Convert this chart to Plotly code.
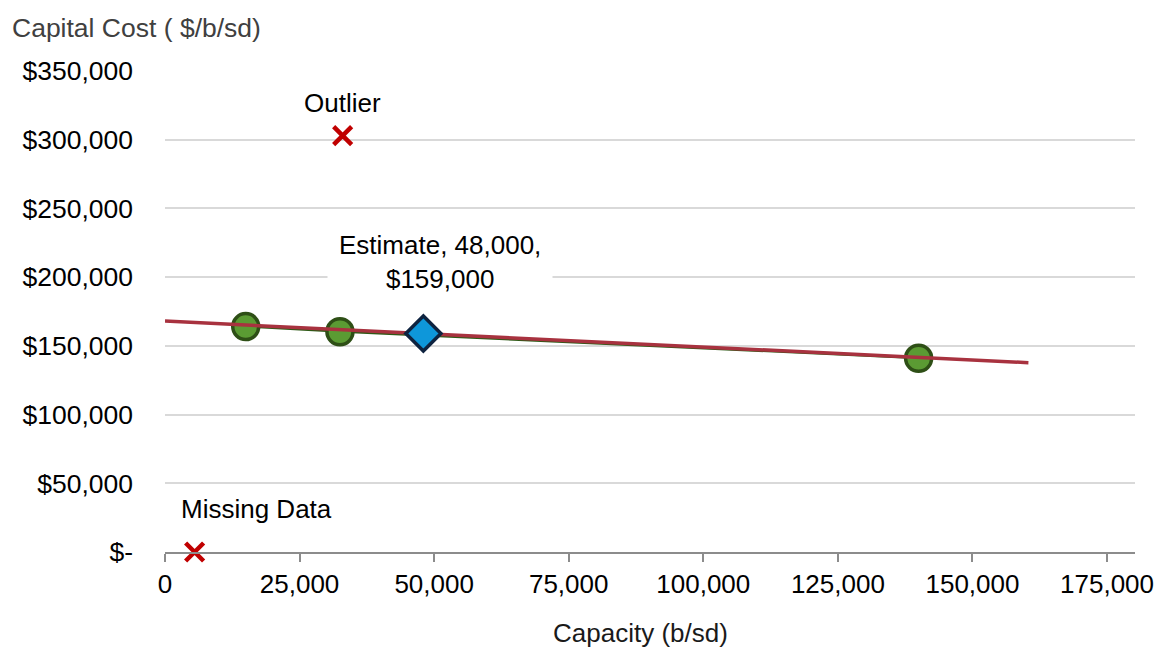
import plotly.graph_objects as go

# Observed plants: capacity (b/sd) vs capital cost ($/b/sd)
plant_capacity = [15000, 32500, 140000]
plant_cost = [164000, 160300, 141000]

# Point estimate for the new plant
estimate_capacity = [48000]
estimate_cost = [159000]

# Excluded points
outlier_capacity = [33000]
outlier_cost = [303000]
missing_capacity = [5500]
missing_cost = [0]

# Linear trend across the capacity range
trend_capacity = [0, 160400]
trend_cost = [168000, 137750]

y_ticks = [0, 50000, 100000, 150000, 200000, 250000, 300000, 350000]
y_tick_text = ["$-", "$50,000", "$100,000", "$150,000", "$200,000",
               "$250,000", "$300,000", "$350,000"]
x_ticks = [0, 25000, 50000, 75000, 100000, 125000, 150000, 175000]
x_tick_text = ["0", "25,000", "50,000", "75,000", "100,000",
               "125,000", "150,000", "175,000"]

FONT = "Liberation Sans, Arial, sans-serif"
TXT = 26

fig = go.Figure()

fig.add_trace(go.Scatter(
    x=plant_capacity, y=plant_cost, mode="lines+markers",
    line=dict(color="#2F5A17", width=2),
    marker=dict(symbol="circle", size=26, color="#5B9B33",
                line=dict(color="#2E4F16", width=3.5)),
    cliponaxis=False, showlegend=False, hoverinfo="x+y"))

fig.add_trace(go.Scatter(
    x=trend_capacity, y=trend_cost, mode="lines",
    line=dict(color="#A8323F", width=3.5),
    showlegend=False, hoverinfo="skip"))

fig.add_trace(go.Scatter(
    x=estimate_capacity, y=estimate_cost, mode="markers",
    marker=dict(symbol="diamond", size=27, color="#0E97DA",
                line=dict(color="#0E2340", width=3.5)),
    cliponaxis=False, showlegend=False, hoverinfo="x+y"))

fig.add_trace(go.Scatter(
    x=outlier_capacity + missing_capacity, y=outlier_cost + missing_cost,
    mode="markers",
    marker=dict(symbol="x-thin", size=18, color="#C00000",
                line=dict(color="#C00000", width=4.5)),
    cliponaxis=False, showlegend=False, hoverinfo="x+y"))

annotations = [
    dict(x=outlier_capacity[0], y=outlier_cost[0], xref="x", yref="y",
         text="Outlier", showarrow=False, yshift=33,
         font=dict(size=TXT, color="#000000", family=FONT)),
    dict(x=missing_capacity[0] + 11500, y=missing_cost[0], xref="x", yref="y",
         text="Missing Data", showarrow=False, yshift=43,
         font=dict(size=TXT, color="#000000", family=FONT)),
    dict(x=estimate_capacity[0] + 3160, y=estimate_cost[0], xref="x", yref="y",
         text="Estimate, {:,},<br>${:,}".format(estimate_capacity[0], estimate_cost[0]),
         showarrow=False, yshift=71, bgcolor="#FFFFFF", borderpad=11,
         font=dict(size=TXT, color="#000000", family=FONT)),
    dict(x=0, y=1, xref="paper", yref="paper", xanchor="left", yanchor="middle",
         text="Capital Cost ( $/b/sd)", showarrow=False,
         xshift=-155, yshift=43,
         font=dict(size=26.5, color="#404040", family=FONT)),
    dict(x=0.4907, y=0, xref="paper", yref="paper", xanchor="center",
         yanchor="middle", text="Capacity (b/sd)", showarrow=False,
         yshift=-81,
         font=dict(size=TXT, color="#1A1A1A", family=FONT)),
]

fig.update_layout(
    width=1158, height=649,
    margin=dict(l=165, r=23, t=71, b=97),
    paper_bgcolor="#FFFFFF", plot_bgcolor="#FFFFFF",
    font=dict(family=FONT, size=TXT, color="#000000"),
    annotations=annotations,
    xaxis=dict(
        range=[0, 180200], tickvals=x_ticks, ticktext=x_tick_text,
        automargin=False,
        showgrid=False, zeroline=False,
        showline=True, linecolor="#8C8C8C", linewidth=1.5,
        ticks="outside", ticklen=8, tickwidth=1.5, tickcolor="#8C8C8C",
        tickfont=dict(size=TXT, color="#000000", family=FONT),
    ),
    yaxis=dict(
        range=[0, 350000], tickvals=y_ticks, ticktext=y_tick_text,
        automargin=False,
        showgrid=True, gridcolor="#D9D9D9", gridwidth=1.5,
        zeroline=False, showline=False, ticks="",
        ticklabelstandoff=31,
        tickfont=dict(size=26.5, color="#000000", family=FONT),
    ),
)

fig.write_html("out.html")
